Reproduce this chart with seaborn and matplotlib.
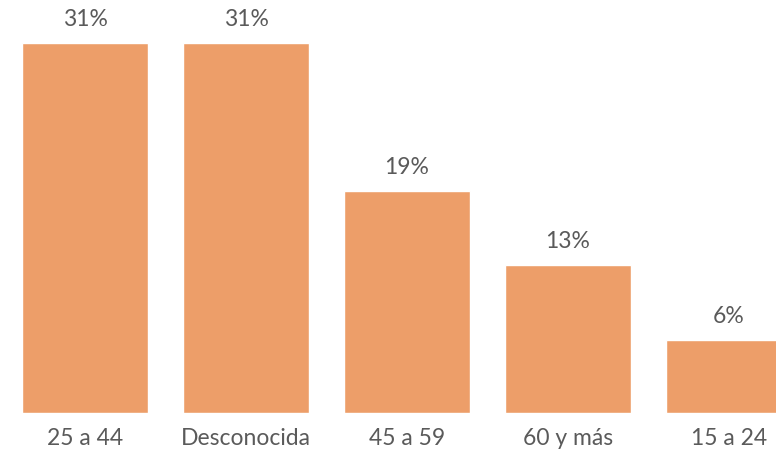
import numpy as np
import pandas as pd
import matplotlib
matplotlib.use("Agg")
import matplotlib.pyplot as plt
import seaborn as sns

# data
grupos = ["25 a 44", "Desconocida", "45 a 59", "60 y más", "15 a 24"]
porcentaje = [30.8, 30.8, 18.5, 12.3, 6.1]
etiquetas = ["31%", "31%", "19%", "13%", "6%"]

df = pd.DataFrame({"grupo": grupos, "pct": porcentaje})

sns.set_style("white")
plt.rcParams["font.family"] = ["Lato", "DejaVu Sans"]

fig = plt.figure(figsize=(7.76, 4.53), dpi=100)
ax = fig.add_axes([0, 40 / 453, 1, 413 / 453])

sns.barplot(data=df, x="grupo", y="pct", color="#ED9E69", saturation=1,
            width=0.78, ax=ax)

ax.set_xlim(-85 / 161, (776 - 85) / 161)
ax.set_ylim(0, 413 / 12.0)

for i, (v, lab) in enumerate(zip(porcentaje, etiquetas)):
    ax.annotate(lab, (i, v), xytext=(0, 17), textcoords="offset points",
                ha="center", va="center", fontsize=16.5, color="#5a5a5a")

ax.set_xlabel("")
ax.set_ylabel("")
ax.set_yticks([])
ax.tick_params(axis="x", length=0, pad=11, labelsize=16.5, labelcolor="#5a5a5a")
sns.despine(ax=ax, left=True, bottom=True)

fig.savefig("out.png", dpi=100)
